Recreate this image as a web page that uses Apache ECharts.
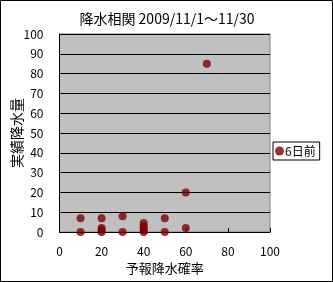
<!DOCTYPE html>
<html><head><meta charset="utf-8">
<script src="https://cdn.jsdelivr.net/npm/echarts@6/dist/echarts.min.js"></script>
<style>html,body{margin:0;padding:0;background:#fff}#c{width:333px;height:282px}</style>
</head><body><div id="c"></div>
<script>
const titleText = '降水相関 2009/11/1～11/30';
const xName = '予報降水確率';
const yName = '実績降水量';
const seriesName = '6日前';
const forecastProb = [10, 10, 20, 20, 20, 20, 30, 30, 40, 40, 40, 40, 40, 50, 50, 60, 60, 70];
const actualRain   = [0, 7, 0, 1, 2, 7, 0, 8, 0, 1, 2, 3, 4.5, 0, 7, 2, 20, 85];
const font = '"Noto Sans CJK JP", sans-serif';
const chart = echarts.init(document.getElementById('c'), null, {renderer: 'canvas'});
chart.setOption({
  animation: false,
  backgroundColor: '#fff',
  title: {text: titleText, left: 162, top: 7, textAlign: 'center',
    textStyle: {fontFamily: font, fontSize: 14, fontWeight: 'normal', color: '#000'}},
  grid: {left: 59.5, right: 63, top: 34, bottom: 50, outerBoundsMode: 'none', containLabel: false,
    show: true, backgroundColor: '#c0c0c0', borderColor: '#808080', borderWidth: 1},
  legend: {data: [seriesName], left: 273, top: 142, width: 52, height: 20, orient: 'vertical',
    borderColor: '#000', borderWidth: 1, padding: [3, 4, 3, 2], itemWidth: 9, itemHeight: 9, itemGap: 0,
    icon: 'circle', textStyle: {fontFamily: font, fontSize: 12, color: '#000', padding: [0, 0, 0, -4]}},
  xAxis: {type: 'value', min: 0, max: 100, interval: 20,
    name: xName, nameLocation: 'middle', nameGap: 30, nameMoveOverlap: false,
    nameTextStyle: {fontFamily: font, fontSize: 13, color: '#000'},
    axisLine: {show: true, lineStyle: {color: '#000'}},
    axisTick: {show: true, inside: true, length: 4, lineStyle: {color: '#000'}},
    axisLabel: {fontFamily: font, fontSize: 12, color: '#000', margin: 13},
    splitLine: {show: false}},
  yAxis: {type: 'value', min: 0, max: 100, interval: 10,
    name: yName, nameLocation: 'middle', nameGap: 36, nameRotate: 90, nameMoveOverlap: false,
    nameTextStyle: {fontFamily: font, fontSize: 14, color: '#000'},
    axisLine: {show: true, lineStyle: {color: '#000'}},
    axisTick: {show: false},
    axisLabel: {fontFamily: font, fontSize: 12, color: '#000', margin: 16},
    splitLine: {show: true, lineStyle: {color: '#000', width: 1}}},
  graphic: [{type: 'rect', shape: {x: 0.5, y: 0.5, width: 332, height: 281}, style: {fill: null, stroke: '#000', lineWidth: 1}, silent: true}],
  series: [{name: seriesName, type: 'scatter', symbol: 'circle', symbolSize: 8,
    itemStyle: {color: '#800000'},
    data: forecastProb.map((x, i) => [x, actualRain[i]])}]
});
</script></body></html>
